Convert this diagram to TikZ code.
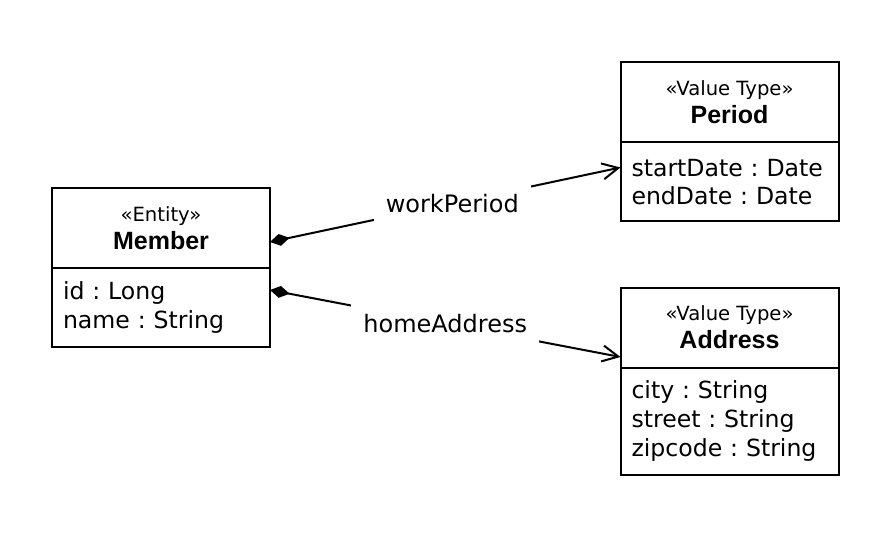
\documentclass[tikz,border=0pt]{standalone}
\usepackage{fontspec}
\setmainfont{DejaVu Sans}
\newfontfamily\titlefont{Liberation Sans}
\usetikzlibrary{arrows.meta,positioning}
\frenchspacing
\newcommand{\stereo}[1]{{\fontsize{9.8}{11.5}\selectfont «#1»}}
\newcommand{\cname}[1]{{\titlefont\bfseries\fontsize{12.5}{15}\selectfont #1}}
\tikzset{
  head/.style={draw,line width=1pt,outer sep=0pt,minimum width=109pt,
               minimum height=40pt,align=center,inner sep=0pt},
  attrs/.style={draw,line width=1pt,outer sep=0pt,text width=98pt,align=left,
                inner sep=5.5pt,font=\fontsize{11.8}{14.4}\selectfont},
  comp/.style={{Diamond[length=10pt,width=6pt]}-{Straight Barb[length=8pt,width=8pt]},
               line width=1pt},
  role/.style={fill=white,inner sep=6pt,font=\fontsize{12}{14.5}\selectfont},
}
\begin{document}
\begin{tikzpicture}[x=0.5pt,y=-0.5pt]
  \useasboundingbox (0,0) rectangle (890,540);
  % classes
  \node[head] (member) at (161,228) {\stereo{Entity}\\[2pt]\cname{Member}};
  \node[attrs,minimum height=39.5pt,below=0pt of member] (memberattr) {id : Long\\name : String};
  \node[head] (period) at (729.5,102.5) {\stereo{Value Type}\\[2pt]\cname{Period}};
  \node[attrs,minimum height=39.5pt,below=0pt of period] (periodattr) {startDate : Date\\endDate : Date};
  \node[head] (address) at (729.5,327.5) {\stereo{Value Type}\\[2pt]\cname{Address}};
  \node[attrs,minimum height=53.5pt,below=0pt of address] (addressattr) {city : String\\street : String\\zipcode : String};
  % compositions
  \draw[comp] ([yshift=-7pt]member.east) -- node[role,pos=.52]{workPeriod} ([yshift=7.25pt]periodattr.west);
  \draw[comp] ([yshift=8.75pt]memberattr.east) -- node[role]{homeAddress} ([yshift=-14.75pt]address.west);
\end{tikzpicture}
\end{document}
